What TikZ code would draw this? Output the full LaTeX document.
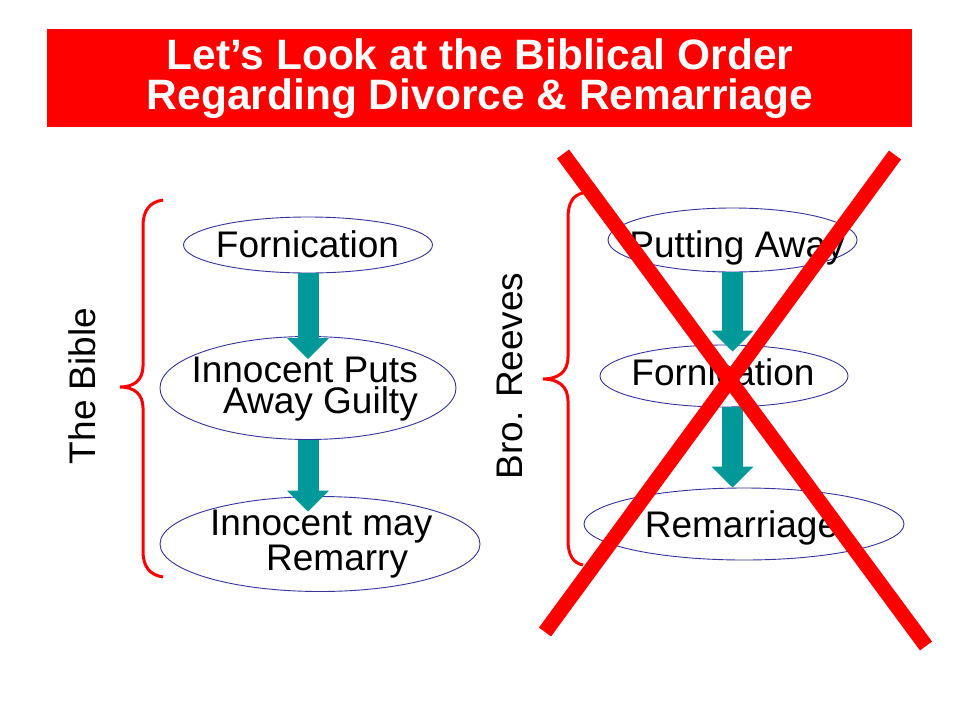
\documentclass[tikz,border=0pt]{standalone}
\usepackage{fontspec}
\setmainfont{Liberation Sans}
\usetikzlibrary{shapes.geometric,arrows.meta,calc}
\definecolor{tealfill}{HTML}{009999}
\definecolor{navyline}{HTML}{333399}
\definecolor{pptred}{HTML}{FF0000}
\tikzset{
  oval/.style={ellipse,draw=navyline,line width=0.9pt,inner sep=0pt},
  bodytext/.style={anchor=base,inner sep=0pt,font=\fontsize{37}{40}\selectfont},
  downarrow/.style={draw=tealfill,line width=21pt,-{Triangle[width=41pt,length=21pt]}},
  bracestyle/.style={draw=pptred,line width=3pt},
  crossline/.style={draw=pptred,line width=15pt,line cap=butt}
}
\begin{document}
\begin{tikzpicture}[x=1pt,y=-1pt]
\useasboundingbox (0,0) rectangle (960,720);
\fill[white] (0,0) rectangle (960,720);
% title
\node[fill=pptred,minimum width=865pt,minimum height=98pt,inner sep=0pt] (titlebox) at (479.5,78) {};
\node[anchor=base,inner sep=0pt,text=white,font=\bfseries\fontsize{42.5}{40}\selectfont] (title1) at (480,69) {Let’s Look at the Biblical Order};
\node[anchor=base,inner sep=0pt,text=white,font=\bfseries\fontsize{42.5}{40}\selectfont] (title2) at (480,109) {Regarding Divorce \& Remarriage};
% left column
\node[oval,minimum width=249pt,minimum height=56pt] (f1) at (308,245) {};
\node[oval,minimum width=296pt,minimum height=103pt] (i1) at (308,388) {};
\node[oval,minimum width=320pt,minimum height=95pt] (i2) at (320,544) {};
\draw[downarrow] (f1.south) -- ([yshift=-23pt]f1.south |- i1.north);
\draw[downarrow] (i1.south) -- ([yshift=-15.5pt]i1.south |- i2.north);
\node[bodytext] (tf1) at (307.5,257) {Fornication};
\node[bodytext,anchor=base east,align=right,font=\fontsize{37}{31}\selectfont] (ti1) at (418,413) {Innocent Puts\\Away Guilty};
\node[bodytext,anchor=base west,align=left,font=\fontsize{37}{35}\selectfont] (ti2) at (210,570) {Innocent may\\\hspace*{56pt}Remarry};
\draw[bracestyle] (163,200) .. controls (150,202) and (143,210) .. (143,226) -- (143,366) .. controls (143,380) and (134,387) .. (120,387) .. controls (134,387) and (143,394) .. (143,408) -- (143,551) .. controls (143,567) and (150,575) .. (163,577);
\node[rotate=90,bodytext] (bible) at (95,386) {The Bible};
% right column
\node[oval,minimum width=249pt,minimum height=64pt] (pa) at (732.5,240) {};
\node[oval,minimum width=248pt,minimum height=62pt] (rf) at (724,376) {};
\node[oval,minimum width=320pt,minimum height=72pt] (rm) at (744,524) {};
\draw[downarrow] (pa.south) -- ([yshift=-7pt]pa.south |- rf.north);
\draw[downarrow] ([xshift=8.5pt]rf.south) -- ([xshift=8.5pt]rf.south |- rm.north);
\node[bodytext] (tpa) at (737,257) {Putting Away};
\node[bodytext] (trf) at (723,385) {Fornication};
\node[bodytext] (trm) at (741.5,537) {Remarriage};
\draw[bracestyle] (583,193) .. controls (573,195) and (568,203) .. (568,218) -- (568,357) .. controls (568,372) and (558,379) .. (543,379) .. controls (558,379) and (568,386) .. (568,401) -- (568,540) .. controls (568,555) and (573,563) .. (583,565);
\node[rotate=90,bodytext] (reeves) at (522,376) {Bro. Reeves};
% red cross
\coordinate (xa) at (563,154);
\coordinate (xb) at (926,646);
\coordinate (xc) at (895,155);
\coordinate (xd) at (545,632);
\draw[crossline] (xa) -- (xb);
\draw[crossline] (xc) -- (xd);
\end{tikzpicture}
\end{document}
